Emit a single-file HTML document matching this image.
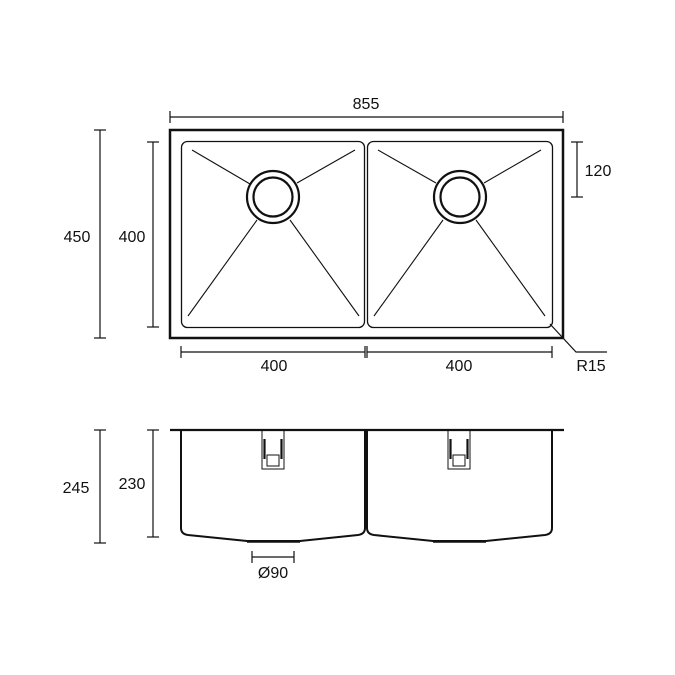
<!DOCTYPE html>
<html><head><style>
html,body{margin:0;padding:0;background:#fff;}
svg{display:block;}
text{font-family:"Liberation Sans",sans-serif;font-size:16px;fill:#111;}
</style></head><body>
<svg width="675" height="675" viewBox="0 0 675 675" xmlns="http://www.w3.org/2000/svg">
<g stroke="#111" fill="none">
<rect x="170" y="130" width="393" height="208" stroke-width="2.5"/>
<rect x="181.5" y="141.5" width="183" height="186" rx="6" stroke-width="1.3"/>
<rect x="367.5" y="141.5" width="185" height="186" rx="6" stroke-width="1.3"/>
<circle cx="273" cy="197" r="26" stroke-width="2.2"/>
<circle cx="273" cy="197" r="19.5" stroke-width="2.2"/>
<circle cx="460" cy="197" r="26" stroke-width="2.2"/>
<circle cx="460" cy="197" r="19.5" stroke-width="2.2"/>
<g stroke-width="1.1">
<line x1="192" y1="150" x2="250" y2="184"/>
<line x1="355" y1="150" x2="297" y2="183"/>
<line x1="188" y1="316" x2="257" y2="220"/>
<line x1="359" y1="316" x2="290" y2="220"/>
<line x1="378" y1="150" x2="436" y2="183"/>
<line x1="541" y1="150" x2="484" y2="183"/>
<line x1="374" y1="316" x2="443" y2="220"/>
<line x1="545" y1="316" x2="476" y2="220"/>
</g>
<g stroke-width="1.2">
<line x1="170" y1="117" x2="563" y2="117"/>
<line x1="170" y1="111" x2="170" y2="123"/>
<line x1="563" y1="111" x2="563" y2="123"/>
<line x1="100" y1="130" x2="100" y2="338"/>
<line x1="94" y1="130" x2="106" y2="130"/>
<line x1="94" y1="338" x2="106" y2="338"/>
<line x1="153" y1="142" x2="153" y2="327"/>
<line x1="147" y1="142" x2="159" y2="142"/>
<line x1="147" y1="327" x2="159" y2="327"/>
<line x1="577" y1="142" x2="577" y2="197"/>
<line x1="571" y1="142" x2="583" y2="142"/>
<line x1="571" y1="197" x2="583" y2="197"/>
<line x1="181" y1="352" x2="365" y2="352"/>
<line x1="181" y1="346" x2="181" y2="358"/>
<line x1="365" y1="346" x2="365" y2="358"/>
<line x1="367" y1="352" x2="552" y2="352"/>
<line x1="367" y1="346" x2="367" y2="358"/>
<line x1="552" y1="346" x2="552" y2="358"/>
<polyline points="550,324 576,352 607,352"/>
</g>
<line x1="170" y1="430" x2="564" y2="430" stroke-width="2.2"/>
<path d="M181,430 V528 Q181,534 188,535 L247,541 H300 L358,535 Q365,534 365,528 V430" stroke-width="2"/>
<path d="M367,430 V528 Q367,534 374,535 L433,541 H486 L545,535 Q552,534 552,528 V430" stroke-width="2"/>
<line x1="247" y1="542" x2="300" y2="542" stroke-width="1.5"/>
<line x1="433" y1="542" x2="486" y2="542" stroke-width="1.5"/>
<g stroke-width="1">
<rect x="262" y="430" width="22" height="39"/>
<rect x="267" y="455" width="12" height="11"/>
<rect x="448" y="430" width="22" height="39"/>
<rect x="453" y="455" width="12" height="11"/>
</g>
<g stroke-width="2.2">
<line x1="264.5" y1="439" x2="264.5" y2="459"/>
<line x1="281.5" y1="439" x2="281.5" y2="459"/>
<line x1="450.5" y1="439" x2="450.5" y2="459"/>
<line x1="467.5" y1="439" x2="467.5" y2="459"/>
</g>
<g stroke-width="1.2">
<line x1="100" y1="430" x2="100" y2="543"/>
<line x1="94" y1="430" x2="106" y2="430"/>
<line x1="94" y1="543" x2="106" y2="543"/>
<line x1="153" y1="430" x2="153" y2="537"/>
<line x1="147" y1="430" x2="159" y2="430"/>
<line x1="147" y1="537" x2="159" y2="537"/>
<line x1="252" y1="557" x2="294" y2="557"/>
<line x1="252" y1="551" x2="252" y2="563"/>
<line x1="294" y1="551" x2="294" y2="563"/>
</g>
</g>
<text x="366" y="109" text-anchor="middle">855</text>
<text x="77" y="242" text-anchor="middle">450</text>
<text x="132" y="242" text-anchor="middle">400</text>
<text x="598" y="176" text-anchor="middle">120</text>
<text x="274" y="371" text-anchor="middle">400</text>
<text x="459" y="371" text-anchor="middle">400</text>
<text x="591" y="371" text-anchor="middle">R15</text>
<text x="76" y="493" text-anchor="middle">245</text>
<text x="132" y="489" text-anchor="middle">230</text>
<text x="273" y="578" text-anchor="middle">Ø90</text>
</svg>
</body></html>
